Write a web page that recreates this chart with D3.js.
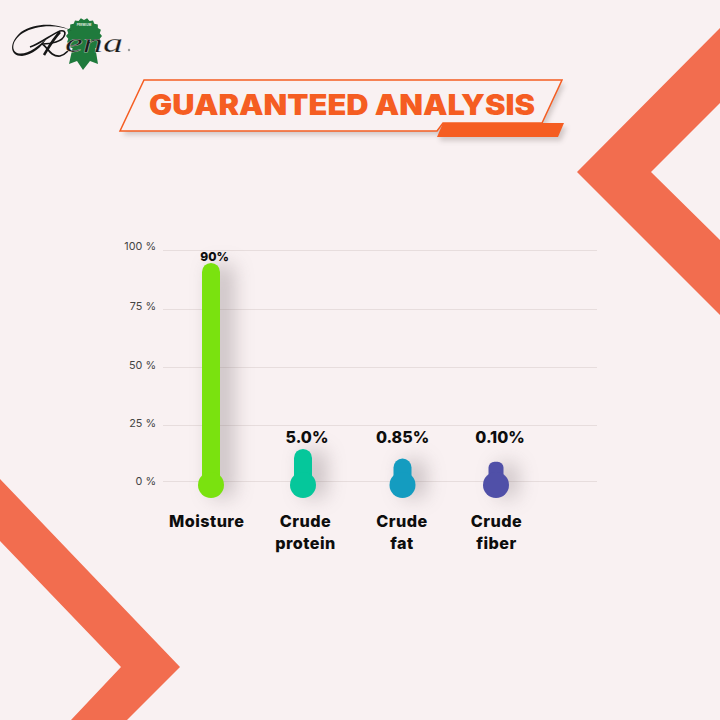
<!DOCTYPE html>
<html><head><meta charset="utf-8">
<script src="https://cdn.jsdelivr.net/npm/d3@7"></script>
<style>
html,body{margin:0;padding:0;background:#f9f1f2;overflow:hidden}
svg{display:block}
text{font-family:Inter,"Noto Sans",sans-serif}
</style></head><body>
<svg id="c" width="720" height="720"></svg>
<script>
const categories = ["Moisture","Crude protein","Crude fat","Crude fiber"];
const categoryLines = [["Moisture"],["Crude","protein"],["Crude","fat"],["Crude","fiber"]];
const barTops = [94.5, 14.3, 10, 8.6];
const valueLabels = ["90%","5.0%","0.85%","0.10%"];
const barColors = ["#7ae20f","#05c79b","#149cc0","#5050a8"];
const yTicks = [0,25,50,75,100];
const tickLabels = ["0 %","25 %","50 %","75 %","100 %"];
const titleText = "GUARANTEED ANALYSIS";
const orange = "#f26d4f", titleOrange = "#f55d22", bg = "#f9f1f2";

const svg = d3.select("#c");
const defs = svg.append("defs");
defs.append("filter").attr("id","barShadow").attr("x","-400%").attr("width","900%").attr("y","-60%").attr("height","220%")
  .append("feGaussianBlur").attr("stdDeviation",10);
defs.append("filter").attr("id","boxShadow").attr("x","-10%").attr("width","120%").attr("y","-30%").attr("height","160%")
  .append("feGaussianBlur").attr("stdDeviation",2.5);

svg.append("rect").attr("width",720).attr("height",720).attr("fill",bg);

// decorative chevrons
const line = d3.line();
svg.append("path").attr("fill",orange)
  .attr("d",line([[720,28],[577,172],[720,315],[720,240],[651,172],[720,103]])+"Z");
svg.append("path").attr("fill",orange)
  .attr("d",line([[0,479],[180,667],[127,720],[71,720],[121,667],[0,541]])+"Z");

// logo (approximated)
const logo = svg.append("g");
const seal = d3.range(36).map(i=>{const a=i/36*2*Math.PI,r=i%2?16:18;return [84+r*Math.cos(a),36+r*Math.sin(a)]});
logo.append("path").attr("fill","#1f7a3c").attr("d",line([[73,46],[69,64],[77,61],[83,70],[90,61],[98,64],[95,46]])+"Z");
logo.append("path").attr("fill","#1f7a3c").attr("d",line(seal)+"Z");
logo.append("text").attr("font-size",3).attr("font-weight",700).attr("fill","#dfeadf")
  .attr("text-anchor","middle").attr("transform","translate(84,26)").text("PREMIUM");
// R swash as filled crescents
logo.append("path").attr("fill","#161616")
  .attr("d","M72 31C58 24 36 25 23 33C12 40 11 50 17 53C26 56 38 47 47 38C42 47 32 55 22 56C9 56 9 42 21 32C36 22 58 23 72 31Z");
logo.append("path").attr("fill","none").attr("stroke","#161616").attr("stroke-width",1.7)
  .attr("d","M30 47C40 44 52 34 60 31C68 29 66 39 56 42C50 44 46 44 42 44C47 46 50 57 60 56C64 55 66 53 68 51");
logo.append("path").attr("fill","none").attr("stroke","#161616").attr("stroke-width",2.6)
  .attr("d","M60 32C54 38 50 45 44 55");
logo.append("text").attr("x",65).attr("y",52).attr("font-size",27).attr("font-style","italic")
  .attr("textLength",58).attr("lengthAdjust","spacingAndGlyphs")
  .style("font-family","'Liberation Serif',serif").attr("fill","#1a1a1a").attr("stroke",bg).attr("stroke-width",.25).text("ena");
logo.append("circle").attr("cx",129).attr("cy",50).attr("r",1.2).attr("fill","#9a9a9a");

// title box
svg.append("path").attr("fill","#6e6260").attr("opacity",.28).attr("filter","url(#boxShadow)")
  .attr("d",line([[148,84],[565,84],[545,127],[567,127],[561,141],[440,141],[440,135],[123,135]])+"Z");
svg.append("path").attr("fill",bg).attr("stroke",titleOrange).attr("stroke-width",1.5)
  .attr("d",line([[144,80],[562,80],[542,123],[443,123],[437,131],[120,131]])+"Z");
svg.append("path").attr("fill",titleOrange)
  .attr("d",line([[443,123],[564,123],[558,137],[437,137]])+"Z");
svg.append("text").attr("x",149).attr("y",115).attr("font-size",28).attr("font-weight",900)
  .attr("textLength",386).attr("lengthAdjust","spacingAndGlyphs").attr("fill",titleOrange).text(titleText);

// scales
const y = d3.scaleLinear().domain(yTicks).range([481,425,367,309,250]);
const yLabel = d3.scaleLinear().domain(yTicks).range([481,423,365,306,246]);
const xx = d3.scaleOrdinal().domain(categories).range([211,303,402.5,496]);
const barW = d3.scaleOrdinal().domain(categories).range([18,18,18,15]);

// grid & axis
const axis = svg.append("g").attr("transform","translate(163,0)")
  .call(d3.axisLeft(y).tickValues(yTicks).tickSize(-434).tickPadding(7)
    .tickFormat(d=>tickLabels[yTicks.indexOf(d)]));
axis.select(".domain").remove();
axis.selectAll("line").attr("stroke","#e7dddd").attr("stroke-width",1);
axis.selectAll("text").attr("font-size",10.8).attr("fill","#444").attr("font-weight",400)
  .attr("y",d=>yLabel(d)-y(d));

const data = categories.map((c,i)=>({c,top:barTops[i],label:valueLabels[i],color:barColors[i],lines:categoryLines[i]}));

// shadows
svg.append("g").selectAll("rect").data(data).join("rect").attr("filter","url(#barShadow)").attr("opacity",.34)
  .attr("x",d=>xx(d.c)-barW(d.c)/2+8).attr("y",d=>y(d.top)+2)
  .attr("width",d=>barW(d.c)+6).attr("height",d=>y(0)-y(d.top)+14).attr("fill","#6f6468");

// bars
const marks = svg.append("g").selectAll("g").data(data).join("g").attr("fill",d=>d.color);
marks.append("rect").attr("x",d=>xx(d.c)-barW(d.c)/2).attr("y",d=>y(d.top))
  .attr("width",d=>barW(d.c)).attr("height",d=>y(0)-y(d.top)+4).attr("rx",d=>d.c==="Crude fiber"?6:9);
marks.append("circle").attr("cx",d=>xx(d.c)).attr("cy",y(0)+4).attr("r",13);

// value labels
svg.append("g").selectAll("text").data(data).join("text")
  .attr("x",(d,i)=>[214.5,307,402.5,500][i]).attr("y",(d,i)=>[261,443,443,443][i]).attr("text-anchor","middle")
  .attr("font-size",(d,i)=>i?16:12).attr("font-weight",800).attr("fill","#0d0d0d").text(d=>d.label);

// category labels
svg.append("g").selectAll("text").data(data).join("text")
  .attr("x",(d,i)=>[206.7,305.5,402,496.5][i]).attr("y",526.5).attr("text-anchor","middle")
  .attr("font-size",16.2).attr("font-weight",800).attr("letter-spacing",.45).attr("fill","#0d0d0d")
  .selectAll("tspan").data(d=>d.lines).join("tspan")
  .attr("x",function(){return d3.select(this.parentNode).attr("x")}).attr("dy",(d,i)=>i?22.5:0).text(d=>d);
</script>
</body></html>
